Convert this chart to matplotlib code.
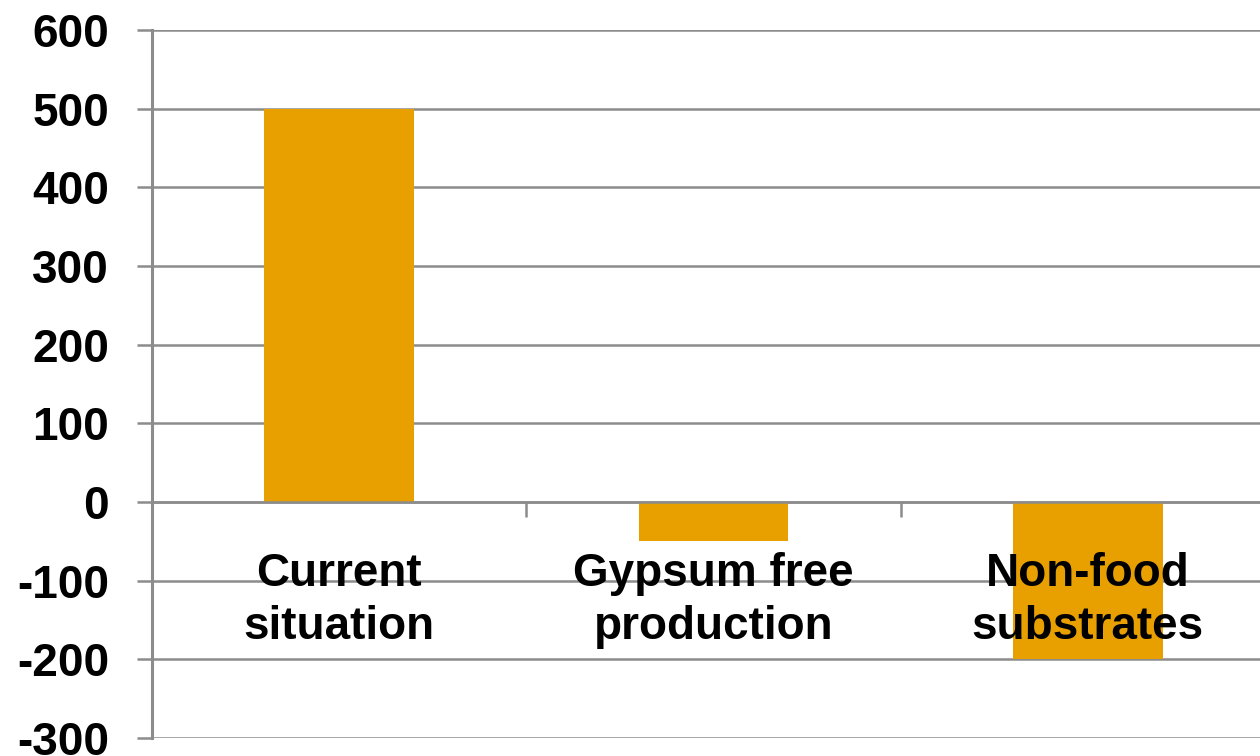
import matplotlib.pyplot as plt
import numpy as np

categories = ["Current\nsituation", "Gypsum free\nproduction", "Non-food\nsubstrates"]
values = [500, -50, -200]
y_ticks = [-300, -200, -100, 0, 100, 200, 300, 400, 500, 600]

bar_color = "#E8A000"
line_color = "#8C8C8C"

plt.rcParams["font.family"] = ["Liberation Sans", "DejaVu Sans"]
plt.rcParams["font.weight"] = "bold"

fig = plt.figure(figsize=(12.6, 7.56), dpi=100)
ax = fig.add_axes([152 / 1260, 18 / 756, 1123 / 1260, 708 / 756])

x = np.arange(len(categories))
ax.bar(x, values, width=0.4, color=bar_color, zorder=2)

ax.set_xlim(-0.5, len(categories) - 0.5)
ax.set_ylim(-300, 600)
ax.set_yticks(y_ticks)
ax.set_yticklabels([str(v) for v in y_ticks], fontsize=33, fontweight="bold")
ax.yaxis.grid(True, color=line_color, linewidth=1.8, zorder=1)
ax.set_axisbelow(True)

# horizontal axis sits on zero, with ticks between categories
ax.spines["bottom"].set_position(("data", 0))
ax.spines["bottom"].set_color(line_color)
ax.spines["bottom"].set_linewidth(1.8)
ax.spines["left"].set_color(line_color)
ax.spines["left"].set_linewidth(2.2)
ax.spines["top"].set_visible(False)
ax.spines["right"].set_visible(False)

ax.set_xticks(x[:-1] + 0.5)
ax.set_xticklabels([])
ax.tick_params(axis="x", direction="out", length=11, width=1.8, color=line_color)
ax.tick_params(axis="y", direction="out", length=11, width=1.8, color=line_color, pad=20)

for xi, label in zip(x, categories):
    ax.text(xi, -125, label, ha="center", va="center", fontsize=33,
            fontweight="bold", linespacing=1.25, zorder=3)

fig.savefig("out.png", dpi=100)
